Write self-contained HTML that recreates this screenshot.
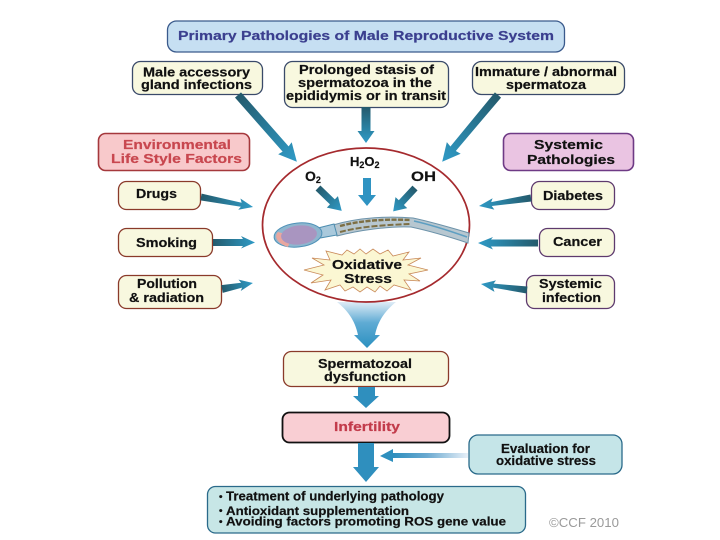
<!DOCTYPE html>
<html>
<head>
<meta charset="utf-8">
<style>
html,body{margin:0;padding:0;background:#fff;width:720px;height:540px;overflow:hidden}
svg{display:block;filter:blur(0.35px)}
text{font-family:"Liberation Sans",sans-serif;font-weight:bold;font-size:12.5px;fill:#111;stroke:#111;stroke-width:0.2px}
.b{stroke-width:1.3}
.y{fill:#f8f8df}
</style>
</head>
<body>
<svg width="720" height="540" viewBox="0 0 720 540" xmlns="http://www.w3.org/2000/svg">
<defs>
<linearGradient id="g" x1="0" y1="0" x2="1" y2="0"><stop offset="0" stop-color="#245a6c"/><stop offset="0.55" stop-color="#2a7f9f"/><stop offset="1" stop-color="#2f9ac6"/></linearGradient>
<linearGradient id="f" x1="0" y1="0" x2="0" y2="1"><stop offset="0" stop-color="#dfecf6"/><stop offset="0.45" stop-color="#5fabd4"/><stop offset="1" stop-color="#2b90c0"/></linearGradient>
<linearGradient id="h" x1="0" y1="0" x2="1" y2="0"><stop offset="0" stop-color="#2e8fbe"/><stop offset="0.45" stop-color="#6aa9d0"/><stop offset="1" stop-color="#e8f0f8"/></linearGradient>
</defs>
<rect width="720" height="540" fill="#fff"/>

<!-- Title -->
<rect class="b" x="167.500" y="21" width="397" height="31" rx="9" fill="#c6dff2" stroke="#3a5a8c"/>
<text x="178" y="40" textLength="376" lengthAdjust="spacingAndGlyphs" style="fill:#3b3f8f;stroke:#3b3f8f">Primary Pathologies of Male Reproductive System</text>

<!-- top boxes -->
<rect class="b y" x="132.500" y="61.500" width="130" height="33" rx="8" stroke="#3a4a6a"/>
<text x="143" y="76.500" textLength="107" lengthAdjust="spacingAndGlyphs">Male accessory</text>
<text x="141" y="89" textLength="111" lengthAdjust="spacingAndGlyphs">gland infections</text>

<rect class="b y" x="284.500" y="61.500" width="164" height="46" rx="8" stroke="#3a4a6a"/>
<text x="299" y="74" textLength="135" lengthAdjust="spacingAndGlyphs">Prolonged stasis of</text>
<text x="298" y="87" textLength="134" lengthAdjust="spacingAndGlyphs">spermatozoa in the</text>
<text x="286" y="100" textLength="160" lengthAdjust="spacingAndGlyphs">epididymis or in transit</text>

<rect class="b y" x="472.500" y="61.500" width="152" height="33" rx="9" stroke="#3a4a6a"/>
<text x="475" y="76" textLength="142" lengthAdjust="spacingAndGlyphs">Immature / abnormal</text>
<text x="506" y="89" textLength="80" lengthAdjust="spacingAndGlyphs">spermatoza</text>

<!-- headings -->
<rect x="98.500" y="133.500" width="151" height="37" rx="7" fill="#f8c9cb" stroke="#a5383c" stroke-width="1.600"/>
<text x="123" y="149" textLength="108" lengthAdjust="spacingAndGlyphs" style="fill:#c8474f;stroke:#c8474f">Environmental</text>
<text x="111" y="163" textLength="131" lengthAdjust="spacingAndGlyphs" style="fill:#c8474f;stroke:#c8474f">Life Style Factors</text>

<rect x="503.500" y="133.500" width="130" height="37" rx="7" fill="#eac4e2" stroke="#6e3a85" stroke-width="1.600"/>
<text x="534" y="149" textLength="69" lengthAdjust="spacingAndGlyphs">Systemic</text>
<text x="527" y="164" textLength="88" lengthAdjust="spacingAndGlyphs">Pathologies</text>

<!-- left boxes -->
<rect class="b y" x="118.500" y="181.500" width="82" height="28" rx="8" stroke="#8a3a2a"/>
<text x="136" y="198" textLength="41" lengthAdjust="spacingAndGlyphs">Drugs</text>
<rect class="b y" x="118.500" y="228.500" width="94" height="28" rx="8" stroke="#8a3a2a"/>
<text x="136" y="247" textLength="61" lengthAdjust="spacingAndGlyphs">Smoking</text>
<rect class="b y" x="118.500" y="275.500" width="103" height="33" rx="8" stroke="#8a3a2a"/>
<text x="137" y="288" textLength="60" lengthAdjust="spacingAndGlyphs">Pollution</text>
<text x="129" y="302" textLength="75" lengthAdjust="spacingAndGlyphs">&amp; radiation</text>

<!-- right boxes -->
<rect class="b y" x="531.500" y="181.500" width="83" height="28" rx="8" stroke="#5e3a6e"/>
<text x="543" y="200" textLength="60" lengthAdjust="spacingAndGlyphs">Diabetes</text>
<rect class="b y" x="539.500" y="228.500" width="75" height="28" rx="8" stroke="#5e3a6e"/>
<text x="553" y="246" textLength="49" lengthAdjust="spacingAndGlyphs">Cancer</text>
<rect class="b y" x="526.500" y="275.500" width="88" height="33" rx="8" stroke="#5e3a6e"/>
<text x="539" y="288" textLength="63" lengthAdjust="spacingAndGlyphs">Systemic</text>
<text x="542" y="302" textLength="59" lengthAdjust="spacingAndGlyphs">infection</text>

<!-- big arrows -->
<polygon fill="url(#g)" transform="translate(238,95) rotate(48.6)" points="0,-4 72,-4 71,-9 89,0 71,9 72,4 0,4"/>
<polygon fill="url(#g)" transform="translate(498,95) rotate(129.900)" points="0,-4 70,-3.500 69,-9 87,0 69,9 70,3.500 0,4"/>
<polygon fill="url(#g)" transform="translate(366,107) rotate(90)" points="0,-4.500 24,-4.500 24,-8.500 36,0 24,8.500 24,4.500 0,4.500"/>

<!-- side arrows -->
<polygon fill="url(#g)" transform="translate(201,197) rotate(10.9)" points="0,-3.500 41,-2 39,-6 53,0 39,5.500 41,2 0,3.500"/>
<polygon fill="url(#g)" transform="translate(213,242.500)" points="0,-3.500 30,-3.500 28,-6.500 42,0 28,6 30,3.500 0,3.500"/>
<polygon fill="url(#g)" transform="translate(222,289) rotate(-11)" points="0,-4 20,-2.500 18,-6 31.500,0 18,5.500 20,2.500 0,4"/>
<polygon fill="url(#g)" transform="translate(531,198) rotate(171.300)" points="0,-3.500 40,-2 38,-6 52.600,0 38,5.500 40,2 0,3.500"/>
<polygon fill="url(#g)" transform="translate(538,243) rotate(180)" points="0,-3.500 47,-3.500 45,-6.500 60,0 45,6 47,3.500 0,3.500"/>
<polygon fill="url(#g)" transform="translate(527,290) rotate(187.400)" points="0,-3.500 34,-2 32,-6 46.400,0 32,5.500 34,2 0,3.500"/>

<!-- funnel -->
<path d="M337,302 C347,310 355,320 358,335 L354,335 L367,348 L380,335 L375,335 C378,320 386,310 396,302 Z" fill="url(#f)"/>

<!-- circle -->
<ellipse cx="366" cy="225" rx="103.500" ry="77" fill="#fff" stroke="#a52a2e" stroke-width="1.700"/>

<!-- molecules -->
<text x="350" y="166" style="font-size:13px">H<tspan dy="2" style="font-size:9px">2</tspan><tspan dy="-2">O</tspan><tspan dy="2" style="font-size:9px">2</tspan></text>
<text x="305" y="181" style="font-size:14px">O<tspan dy="2" style="font-size:9px">2</tspan></text>
<text x="411" y="181" textLength="25" lengthAdjust="spacingAndGlyphs" style="font-size:13.500px">OH</text>

<polygon fill="url(#g)" transform="translate(318,188) rotate(44)" points="0,-3.500 20,-3.500 20,-8 33,0 20,8 20,3.500 0,3.500"/>
<polygon fill="#2f93c2" transform="translate(367,178) rotate(90)" points="0,-4 17,-4 17,-9 28,0 17,9 17,4 0,4"/>
<polygon fill="url(#g)" transform="translate(415,188) rotate(133)" points="0,-3.500 20,-3.500 20,-8 32,0 20,8 20,3.500 0,3.500"/>

<!-- sperm -->
<path d="M333,225 C360,217 390,216 413,218 C432,222 452,228 469,233 L468,243 C450,237 430,231 411,227 C390,226 360,230 337,236 Z" fill="#b7c7d0" stroke="#6d93aa" stroke-width="1"/>
<path d="M340,226 C362,220 388,219 411,220" fill="none" stroke="#7d6f44" stroke-width="2.400" stroke-dasharray="5 1.500"/>
<path d="M340,232 C362,226 388,225 410,224" fill="none" stroke="#7d6f44" stroke-width="2" stroke-dasharray="6 2"/>
<path d="M414,221 C432,225 450,231 467,237" fill="none" stroke="#5d9fc2" stroke-width="1.500"/>
<path d="M318,228 L334,224 L337,235 L320,238 Z" fill="#a9c9dc" stroke="#4c8db0" stroke-width="1"/>
<ellipse cx="298" cy="235" rx="24" ry="12" fill="#8eb6cf" stroke="#4f92b8" stroke-width="1" transform="rotate(-6 298 235)"/>
<path d="M278,232 C274,236 276,243 288,247 L292,236 Z" fill="#e9a79f"/>
<ellipse cx="299" cy="235" rx="18" ry="9.500" fill="#a995c0" transform="rotate(-6 299 235)"/>

<!-- burst -->
<polygon points="304,270 324,265 312,258 330,260 326,251 342,255 347,250 354,254 360,249 366,254 373,249 380,254 388,250 393,256 409,252 403,260 421,258 408,265 428,270 409,274 420,281 404,280 411,290 394,285 387,291 380,286 375,292 367,287 360,292 353,287 345,291 340,285 325,290 331,280 311,283 323,275" fill="#fbf7d3" stroke="#c98a5a" stroke-width="0.800"/>
<text x="332" y="269" textLength="70" lengthAdjust="spacingAndGlyphs" style="font-size:13px">Oxidative</text>
<text x="344" y="283" textLength="48" lengthAdjust="spacingAndGlyphs" style="font-size:13px">Stress</text>

<!-- lower flow -->
<rect class="b y" x="283.500" y="351.500" width="165" height="35" rx="8" stroke="#8a3a2a"/>
<text x="318" y="368" textLength="94" lengthAdjust="spacingAndGlyphs">Spermatozoal</text>
<text x="324" y="381" textLength="82" lengthAdjust="spacingAndGlyphs">dysfunction</text>

<polygon fill="#2f8fbe" points="358,387 375,387 375,396 379,396 366,408 353,396 358,396"/>

<rect x="282.500" y="412.500" width="167" height="30" rx="7" fill="#f9ced3" stroke="#111" stroke-width="1.800"/>
<text x="334" y="431" textLength="66" lengthAdjust="spacingAndGlyphs" style="fill:#c23b4b;stroke:#c23b4b">Infertility</text>

<polygon fill="#2f8fbe" points="358,443 374,443 374,467 379,467 366,482 353,467 358,467"/>

<rect class="b" x="469" y="435" width="153" height="39" rx="9" fill="#c5e5e8" stroke="#2a6a8a"/>
<text x="501" y="453" textLength="89" lengthAdjust="spacingAndGlyphs">Evaluation for</text>
<text x="496" y="465" textLength="100" lengthAdjust="spacingAndGlyphs">oxidative stress</text>

<rect x="393" y="453" width="75" height="5" fill="url(#h)"/>
<polygon fill="#2e8fbe" points="380,456 393,449 393,462"/>

<rect class="b" x="207.500" y="486.500" width="318" height="46.500" rx="8" fill="#c7e6e6" stroke="#2a6a8a"/>
<text x="219" y="500" style="font-size:10px">•</text>
<text x="226" y="500.500" textLength="218" lengthAdjust="spacingAndGlyphs">Treatment of underlying pathology</text>
<text x="219" y="514" style="font-size:10px">•</text>
<text x="226" y="515" textLength="183" lengthAdjust="spacingAndGlyphs" style="font-size:11.500px">Antioxidant supplementation</text>
<text x="219" y="525" style="font-size:10px">•</text>
<text x="226" y="525.500" textLength="280" lengthAdjust="spacingAndGlyphs" style="font-size:11.500px">Avoiding factors promoting ROS gene value</text>

<text x="549" y="527" textLength="70" lengthAdjust="spacingAndGlyphs" style="font-weight:normal;fill:#9a9a9a;stroke:none">©CCF 2010</text>
</svg>
</body>
</html>
